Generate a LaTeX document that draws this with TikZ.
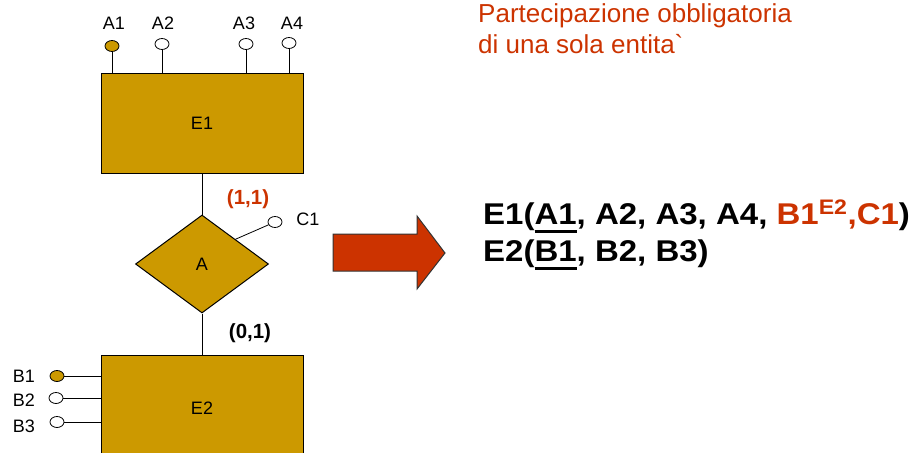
\documentclass[tikz,border=0pt]{standalone}
\usepackage{fontspec}
\setmainfont{Liberation Sans}
\newfontfamily\largafont[FakeStretch=1.1]{Liberation Sans}
\usetikzlibrary{calc, positioning, shapes.geometric}
\definecolor{oro}{HTML}{CC9900}
\definecolor{rosso}{HTML}{CC3300}
\newcommand{\chiave}[1]{\setbox0=\hbox{#1}\rlap{\rule[-8.7pt]{\wd0}{2.7pt}}\box0}

\begin{document}
\begin{tikzpicture}[x=1pt, y=-1pt,
	entity/.style={draw, fill=oro, line width=1pt, minimum width=202pt, inner sep=0pt, font=\fontsize{18}{20}\selectfont},
	relation/.style={diamond, draw, fill=oro, line width=1pt, minimum width=133pt, minimum height=98pt, inner sep=0pt, font=\fontsize{18}{20}\selectfont},
	attr/.style={ellipse, draw, fill=white, line width=0.8pt, minimum width=14pt, minimum height=11pt, inner sep=0pt},
	keyattr/.style={attr, fill=oro},
	lbl/.style={font=\fontsize{18}{20}\selectfont},
	card/.style={font=\bfseries\fontsize{20.5}{22}\selectfont},
	schema/.style={anchor=base west, inner sep=0pt, font=\largafont\bfseries\fontsize{30}{36}\selectfont}]
	\clip (0,0) rectangle (912,452);
	
	% entita' e relazione
	\node [entity, minimum height=100pt] (e1) at (202,123) {E1};
	\node [relation] (rel) at (202,264) {A};
	\node [entity, minimum height=106pt] (e2) at (202,408) {E2};
	\draw [line width=0.8pt] (e1.south) -- (rel.north);
	\draw [line width=0.8pt] (rel.south) -- (e2.north);
	
	% attributi di E1
	\node [keyattr] (a1) at (112,46) {};
	\node [attr] (a2) at (162,44) {};
	\node [attr] (a3) at (246,44) {};
	\node [attr] (a4) at (289,43) {};
	\foreach \a in {a1,a2,a3,a4}
		\draw [line width=0.8pt] (\a.south) -- (\a |- e1.north);
	\node [lbl] (la1) at (114,23) {A1};
	\node [lbl] (la2) at (163,23) {A2};
	\node [lbl] (la3) at (244,23) {A3};
	\node [lbl] (la4) at (292,23) {A4};
	
	% attributo della relazione
	\node [attr] (c1) at (275,222) {};
	\draw [line width=0.8pt] ($(rel.north)!0.5!(rel.east)$) -- (c1);
	\node [lbl] (lc1) at (308,219) {C1};
	
	% attributi di E2
	\node [keyattr] (b1) at (57,376) {};
	\node [attr] (b2) at (56,398) {};
	\node [attr] (b3) at (57,422) {};
	\foreach \b in {b1,b2,b3}
		\draw [line width=0.8pt] (\b.east) -- (\b -| e2.west);
	\node [lbl] (lb1) at (24,376) {B1};
	\node [lbl] (lb2) at (24,400) {B2};
	\node [lbl] (lb3) at (24,426) {B3};
	
	% cardinalita'
	\node [card, text=rosso] (card1) at (248,199) {(1,1)};
	\node [card] (card2) at (250,333) {(0,1)};
	
	% freccia
	\draw [fill=rosso, draw=black!80, line width=1pt] (333,234) -- (417,234) -- (417,216) -- (445,253) -- (417,289) -- (417,271) -- (333,271) -- cycle;
	
	% schema tradotto
	\node [schema] (schema1) at (483,224) {E1(\chiave{A1}, A2, A3, A4, \textcolor{rosso}{B1\textsuperscript{E2},C1})};
	\node [schema] (schema2) at (483,261) {E2(\chiave{B1}, B2, B3)};
	
	\node [anchor=base west, inner sep=0pt, text=rosso, font=\fontsize{26}{30}\selectfont] (nota1) at (478,23) {Partecipazione obbligatoria};
	\node [anchor=base west, inner sep=0pt, text=rosso, font=\fontsize{26}{30}\selectfont] (nota2) at (478,53) {di una sola entita\textasciigrave};
\end{tikzpicture}
\end{document}
